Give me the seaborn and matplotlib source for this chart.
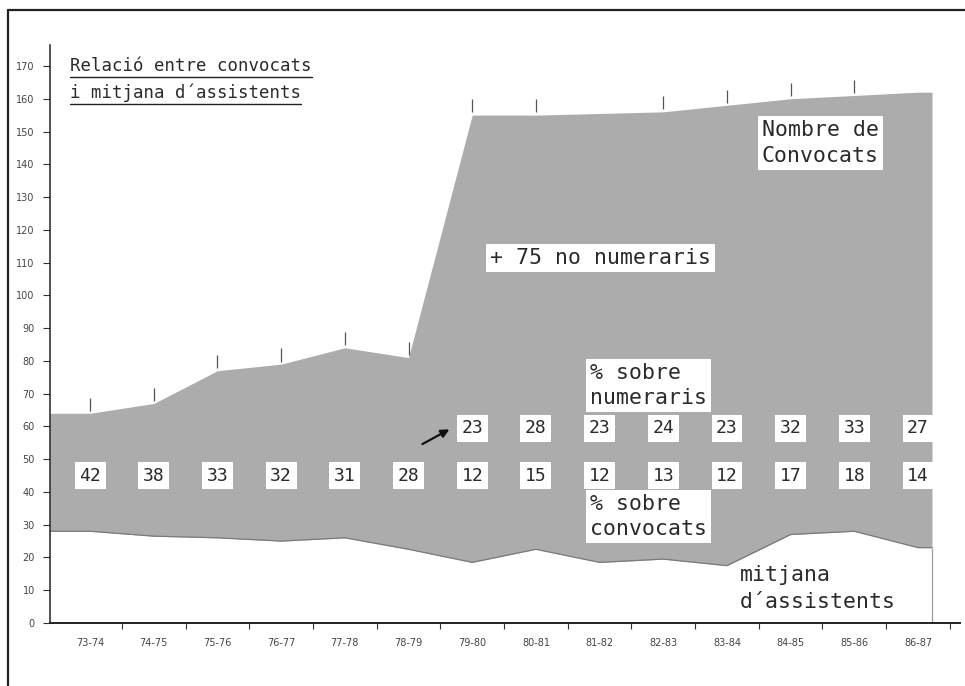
import numpy as np
import pandas as pd
import matplotlib
matplotlib.use("Agg")
import matplotlib.pyplot as plt
import seaborn as sns
from matplotlib.lines import Line2D

# ---- data ----
cursos = ['73-74', '74-75', '75-76', '76-77', '77-78', '78-79', '79-80',
          '80-81', '81-82', '82-83', '83-84', '84-85', '85-86', '86-87']
convocats = [64, 67, 77, 79, 84, 81, 155, 155, 155.5, 156, 158, 160, 161, 162]
mitjana = [28, 26.5, 26, 25, 26, 22.5, 18.5, 22.5, 18.5, 19.5, 17.5, 27, 28, 23]
pct_convocats = [42, 38, 33, 32, 31, 28, 12, 15, 12, 13, 12, 17, 18, 14]
pct_numeraris = [None, None, None, None, None, None, 23, 28, 23, 24, 23, 32, 33, 27]
marca = [1, 1, 1, 1, 1, 1, 1, 1, 0, 1, 1, 1, 1, 0]
y_ticks = list(range(0, 171, 10))

sns.set_theme(style="white")
plt.rcParams['font.family'] = ['DejaVu Sans Mono', 'DejaVu Sans']

GRAY = '#acacac'
TXT = '#2a2a2a'
W, H = 965, 686
fig = plt.figure(figsize=(W / 100, H / 100), dpi=100)
ax = fig.add_axes([50 / W, 1 - 623 / H, (960 - 50) / W, (623 - 45) / H])

idx = np.arange(len(cursos))
x_left, x_right = -0.63, 13.22
xs = np.r_[x_left, idx, x_right]
top = np.r_[convocats[0], convocats, convocats[-1]]
bot = np.r_[mitjana[0], mitjana, mitjana[-1]]
df = pd.DataFrame({'x': xs, 'convocats': top, 'mitjana': bot})

ax.fill_between(df['x'], df['mitjana'], df['convocats'], color=GRAY, lw=0)
sns.lineplot(data=df, x='x', y='mitjana', ax=ax, color='#7a7a7a', lw=0.9,
             estimator=None, sort=False)
ax.vlines(x_right, 0, mitjana[-1], color='#9a9a9a', lw=0.9)

# small vertical marks over the top edge
for i, (c, m) in enumerate(zip(convocats, marca)):
    if m:
        ax.vlines(i, c + 0.8, c + 4.8, color='#555555', lw=0.9)

ax.set_xlim(-0.63, 13.66)
ax.set_ylim(0, 176.4)
ax.set_yticks(y_ticks)
ax.set_yticklabels([str(v) for v in y_ticks], fontsize=7, color='#444444',
                   family='DejaVu Sans')
ax.set_xticks(idx)
ax.set_xticklabels(cursos, fontsize=7, color='#444444', family='DejaVu Sans')
ax.set_xticks(idx + 0.5, minor=True)
ax.tick_params(axis='x', which='major', length=0, pad=11)
ax.tick_params(axis='x', which='minor', length=4, width=0.8, color='#333333',
               direction='out', bottom=True)
ax.tick_params(axis='y', length=5, width=0.8, color='#333333', direction='out',
               left=True, pad=6)
ax.set_xlabel('')
ax.set_ylabel('')
for s in ['top', 'right']:
    ax.spines[s].set_visible(False)
ax.spines['left'].set_color('#222222')
ax.spines['left'].set_linewidth(1.1)
ax.spines['bottom'].set_color('#222222')
ax.spines['bottom'].set_linewidth(1.4)
ax.grid(False)

# number boxes
numbox = dict(boxstyle='square,pad=0.25', fc='white', ec='none')
for i, v in enumerate(pct_convocats):
    ax.text(i, 45, str(v), ha='center', va='center', fontsize=13,
            color=TXT, bbox=numbox)
for i, v in enumerate(pct_numeraris):
    if v is not None:
        ax.text(i, 59.5, str(v), ha='center', va='center', fontsize=13,
                color=TXT, bbox=numbox)
ax.annotate('', xy=(5.68, 59.5), xytext=(5.18, 54.2),
            arrowprops=dict(arrowstyle='-|>', color='#111111', lw=1.6,
                            mutation_scale=12))

lblbox = dict(boxstyle='square,pad=0.2', fc='white', ec='none')
ax.text(10.55, 146.5, 'Nombre de\nConvocats', ha='left', va='center',
        fontsize=15.5, color=TXT, linespacing=1.35, bbox=lblbox)
ax.text(6.28, 111.4, '+ 75 no numeraris', ha='left', va='center',
        fontsize=15.5, color=TXT, bbox=lblbox)
ax.text(7.85, 72.5, '% sobre\nnumeraris', ha='left', va='center',
        fontsize=15.5, color=TXT, linespacing=1.3, bbox=lblbox)
ax.text(7.85, 32.5, '% sobre\nconvocats', ha='left', va='center',
        fontsize=15.5, color=TXT, linespacing=1.3, bbox=lblbox)
ax.text(10.2, 10.5, 'mitjana\nd\u00b4assistents', ha='left', va='center',
        fontsize=15.5, color=TXT, linespacing=1.4)

# title with underline
t1 = fig.text(70 / W, 1 - 66 / H, 'Relaci\u00f3 entre convocats', ha='left',
              va='center', fontsize=12.5, color=TXT)
t2 = fig.text(70 / W, 1 - 93 / H, 'i mitjana d\u00b4assistents', ha='left',
              va='center', fontsize=12.5, color=TXT)
fig.canvas.draw()
r = fig.canvas.get_renderer()
for t in (t1, t2):
    bb = t.get_window_extent(renderer=r).transformed(fig.transFigure.inverted())
    yline = bb.y0 - 2 / H
    fig.add_artist(Line2D([bb.x0, bb.x1], [yline, yline], color='#222222',
                          lw=1.0, transform=fig.transFigure))

# page frame
fig.add_artist(Line2D([8 / W, 1.0], [1 - 10 / H, 1 - 10 / H], color='#222222',
                      lw=1.6, transform=fig.transFigure))
fig.add_artist(Line2D([8 / W, 8 / W], [0, 1 - 10 / H], color='#222222',
                      lw=1.6, transform=fig.transFigure))

fig.savefig('out.png', dpi=100, facecolor='white')
